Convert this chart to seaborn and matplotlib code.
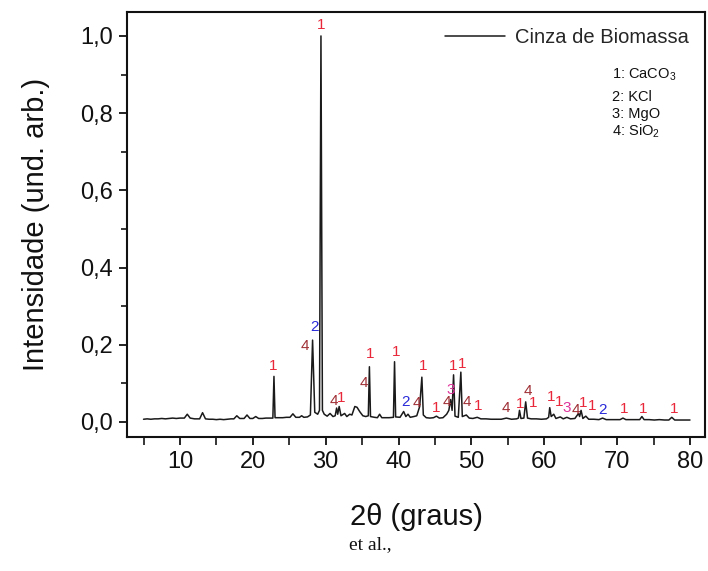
import matplotlib
matplotlib.use("Agg")
import numpy as np
import pandas as pd
import seaborn as sns
import matplotlib.pyplot as plt
from matplotlib.ticker import MultipleLocator, FuncFormatter

# ---- data ----
two_theta = [5.0, 5.5, 6.0, 6.5, 7.0, 7.5, 8.0, 8.5, 9.0, 9.5, 10.0, 10.6, 11.0, 11.4,
             12.0, 12.7, 13.1, 13.5, 14.0, 14.5, 15.0, 15.5, 16.0, 16.5, 17.0, 17.4,
             17.8, 18.2, 18.8, 19.2, 19.6, 20.0, 20.4, 20.8, 21.3, 21.8, 22.3, 22.75,
             22.9, 23.05, 23.6, 24.1, 24.6, 25.1, 25.5, 25.9, 26.4, 26.7, 27.0, 27.5,
             27.9, 28.2, 28.5, 28.9, 29.15, 29.35, 29.55, 29.8, 30.2, 30.6, 31.0, 31.3,
             31.5, 31.65, 31.85, 32.1, 32.6, 32.9, 33.3, 33.6, 34.0, 34.3, 34.7, 35.1,
             35.5, 35.85, 36.0, 36.15, 36.7, 37.1, 37.4, 37.7, 38.2, 38.7, 39.3, 39.45,
             39.6, 40.2, 40.7, 41.0, 41.3, 41.6, 42.1, 42.5, 42.9, 43.2, 43.4, 43.8,
             44.3, 44.8, 45.2, 45.6, 46.1, 46.6, 46.9, 47.15, 47.35, 47.55, 47.75, 48.2,
             48.55, 48.75, 49.3, 49.7, 50.2, 50.8, 51.3, 52.0, 52.7, 53.4, 54.1, 54.8,
             55.5, 56.2, 56.45, 56.6, 56.8, 57.2, 57.45, 57.7, 58.2, 58.9, 59.6, 60.3,
             60.6, 60.75, 60.95, 61.3, 61.6, 62.2, 62.6, 63.1, 63.6, 64.2, 64.7, 64.85,
             65.05, 65.3, 65.7, 66.1, 66.8, 67.5, 68.0, 68.5, 69.2, 69.9, 70.4, 70.8,
             71.2, 71.9, 72.6, 73.1, 73.4, 73.7, 74.4, 75.1, 75.8, 76.5, 77.1, 77.5,
             77.9, 78.6, 79.3, 80.0]
intensity = [0.007, 0.008, 0.007, 0.008, 0.008, 0.009, 0.008, 0.009, 0.010, 0.009, 0.010, 0.010, 0.020, 0.010,
             0.008, 0.008, 0.024, 0.008, 0.007, 0.007, 0.006, 0.007, 0.006, 0.007, 0.008, 0.008,
             0.016, 0.009, 0.009, 0.018, 0.009, 0.009, 0.014, 0.009, 0.009, 0.010, 0.010, 0.010,
             0.118, 0.011, 0.011, 0.011, 0.012, 0.012, 0.021, 0.012, 0.012, 0.016, 0.012, 0.013,
             0.018, 0.212, 0.025, 0.020, 0.030, 1.000, 0.030, 0.020, 0.015, 0.022, 0.014, 0.016,
             0.036, 0.020, 0.040, 0.016, 0.022, 0.014, 0.020, 0.018, 0.040, 0.038, 0.026, 0.016,
             0.014, 0.016, 0.143, 0.014, 0.012, 0.011, 0.020, 0.011, 0.011, 0.011, 0.012, 0.156,
             0.013, 0.012, 0.027, 0.014, 0.020, 0.012, 0.014, 0.016, 0.040, 0.116, 0.018, 0.011,
             0.010, 0.011, 0.015, 0.010, 0.011, 0.020, 0.030, 0.058, 0.030, 0.122, 0.015, 0.012,
             0.129, 0.014, 0.018, 0.010, 0.009, 0.012, 0.008, 0.008, 0.007, 0.007, 0.007, 0.010,
             0.007, 0.008, 0.010, 0.030, 0.009, 0.010, 0.052, 0.010, 0.008, 0.008, 0.007, 0.008,
             0.012, 0.037, 0.014, 0.020, 0.009, 0.013, 0.008, 0.012, 0.008, 0.009, 0.022, 0.014,
             0.030, 0.009, 0.015, 0.007, 0.007, 0.006, 0.010, 0.006, 0.006, 0.006, 0.006, 0.010,
             0.006, 0.006, 0.006, 0.006, 0.014, 0.006, 0.006, 0.005, 0.006, 0.005, 0.005, 0.012,
             0.005, 0.005, 0.005, 0.005]

# peak labels (phase number) and their positions
label_x = [29.35, 28.5, 27.2, 22.8, 31.1, 32.1, 35.25, 36.1, 39.65, 40.9, 42.5, 43.35,
           45.1, 46.6, 47.2, 47.45, 48.7, 49.4, 50.9, 54.7, 56.7, 57.8, 58.5, 60.9,
           62.0, 63.1, 64.3, 65.3, 66.6, 68.05, 70.9, 73.5, 77.8]
label_y = [1.028, 0.246, 0.197, 0.145, 0.054, 0.062, 0.101, 0.176, 0.181, 0.052, 0.049, 0.145,
           0.036, 0.052, 0.083, 0.145, 0.150, 0.052, 0.041, 0.036, 0.047, 0.080, 0.049, 0.065,
           0.052, 0.036, 0.031, 0.049, 0.041, 0.031, 0.034, 0.034, 0.034]
label_text = ["1", "2", "4", "1", "4", "1", "4", "1", "1", "2", "4", "1",
              "1", "4", "3", "1", "1", "4", "1", "4", "1", "4", "1", "1",
              "1", "3", "4", "1", "1", "2", "1", "1", "1"]
phase_lines = ["1: CaCO$_3$", "2: KCl", "3: MgO", "4: SiO$_2$"]
series_name = "Cinza de Biomassa"
x_ticks = [10, 20, 30, 40, 50, 60, 70, 80]
y_ticks = [0.0, 0.2, 0.4, 0.6, 0.8, 1.0]

phase_colors = {"1": "#e8283a", "2": "#2b2bd9", "3": "#e0329a", "4": "#9e2f35"}

# ---- style ----
sns.set_theme(style="ticks")
plt.rcParams["font.family"] = ["Liberation Sans", "DejaVu Sans"]
plt.rcParams["mathtext.fontset"] = "custom"
plt.rcParams["mathtext.rm"] = "Liberation Sans"
plt.rcParams["mathtext.it"] = "Liberation Sans:italic"

W, H = 708, 571
fig = plt.figure(figsize=(W / 100, H / 100), dpi=100)
L, R, T, B = 127, 705, 12, 437
ax = fig.add_axes([L / W, 1 - B / H, (R - L) / W, (B - T) / H])

df = pd.DataFrame({"two_theta": two_theta, "intensity": intensity, "serie": series_name})
sns.lineplot(data=df, x="two_theta", y="intensity", hue="serie", palette=["#1a1a1a"],
             estimator=None, sort=False, linewidth=1.1, ax=ax)

ax.set_xlim(2.73, 82.06)
ax.set_ylim(-0.039, 1.062)
ax.set_xticks(x_ticks)
ax.set_yticks(y_ticks)
ax.xaxis.set_minor_locator(MultipleLocator(5))
ax.yaxis.set_minor_locator(MultipleLocator(0.1))
ax.yaxis.set_major_formatter(FuncFormatter(lambda v, p: f"{v:.1f}".replace(".", ",")))
ax.xaxis.set_major_formatter(FuncFormatter(lambda v, p: f"{int(round(v))}"))
ax.tick_params(axis="both", which="major", direction="out", length=6, width=1.3,
               labelsize=17, colors="#111111", pad=4)
ax.tick_params(axis="x", which="minor", direction="out", length=6, width=1.3)
ax.tick_params(axis="y", which="minor", direction="out", length=4, width=1.3)
for s in ax.spines.values():
    s.set_visible(True)
    s.set_linewidth(1.5)
    s.set_color("#111111")

ax.set_xlabel("2θ (graus)", fontsize=21, labelpad=22, color="#111111")
ax.set_ylabel("Intensidade (und. arb.)", fontsize=21, labelpad=22, color="#111111")

for x, y, t in zip(label_x, label_y, label_text):
    ax.text(x, y, t, color=phase_colors[t], fontsize=11, ha="center", va="center")

leg = ax.legend(loc="upper left", bbox_to_anchor=((445 - L) / (R - L), 1 - (28 - T) / (B - T)),
                frameon=False, fontsize=14.5, handlelength=3.0, handletextpad=0.5,
                borderaxespad=0, borderpad=0)
for ln in leg.get_lines():
    ln.set_linewidth(1.1)

ys = [75, 97, 114, 131]
for txt, yp in zip(phase_lines, ys):
    fig.text(612 / W, 1 - yp / H, txt, fontsize=10.5, ha="left", va="center", color="#111111")

fig.text(370 / W, 1 - 545 / H, "et al.,", fontsize=14, ha="center", va="center",
         family="Liberation Serif", color="#111111")

fig.savefig("out.png", dpi=100)
